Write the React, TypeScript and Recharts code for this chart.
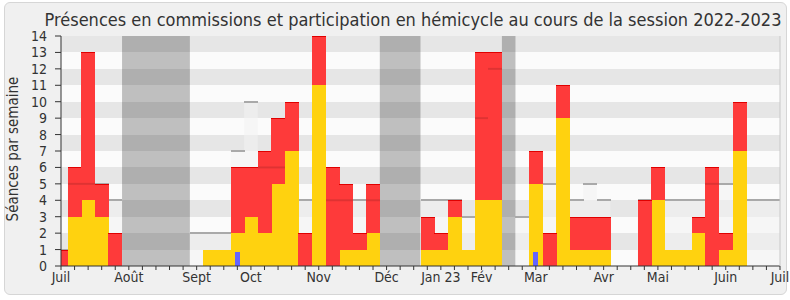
import { ComposedChart, Bar, Area, XAxis, YAxis, CartesianGrid, ReferenceArea } from "recharts";

const FONT = "'DejaVu Sans Condensed', 'DejaVu Sans', sans-serif";

// one point per week, week 0 = first week of July 2022
const weeks = Array.from({ length: 54 }, (_, i) => i);

// séances en hémicycle (yellow, bottom of the stack)
const hemicycle = [
  0, 3, 4, 3, 0, 0, 0, 0, 0, 0, 0, 1, 1, 2, 3, 2, 5, 7, 0, 11, 0, 1, 1, 2, 0, 0, 0,
  1, 1, 3, 1, 4, 4, 0, 0, 5, 0, 9, 1, 1, 1, 0, 0, 0, 4, 1, 1, 2, 0, 1, 7, 0, 0, 0,
];
// présences en commission (red, on top)
const commissions = [
  1, 3, 9, 2, 2, 0, 0, 0, 0, 0, 0, 0, 0, 4, 3, 5, 4, 3, 2, 3, 6, 4, 1, 3, 0, 0, 0,
  2, 1, 1, 0, 9, 9, 0, 0, 2, 2, 2, 2, 2, 2, 0, 0, 4, 2, 0, 0, 1, 6, 1, 3, 0, 0, 0,
];
// présence médiane des députés
const median = [
  1, 5, 5, 5, 4, 0, 0, 0, 0, 0, 2, 2, 2, 7, 10, 6, 6, 5, 4, 4, 4, 4, 4, 4, 0, 0, 0,
  4, 4, 4, 3, 9, 12, 0, 3, 5, 5, 4, 4, 5, 4, 0, 0, 4, 4, 4, 4, 4, 5, 5, 4, 4, 4, 4,
];
// questions orales
const questions = [
  0, 0, 0, 0, 0, 0, 0, 0, 0, 0, 0, 0, 0, 1, 0, 0, 0, 0, 0, 0, 0, 0, 0, 0, 0, 0, 0,
  0, 0, 0, 0, 0, 0, 0, 0, 1, 0, 0, 0, 0, 0, 0, 0, 0, 0, 0, 0, 0, 0, 0, 0, 0, 0, 0,
];
// vacances parlementaires: first and last week of each break
const vacStart = [5, 24, 33];
const vacEnd = [9, 26, 33];

const monthWeeks = [0, 5, 10, 14, 19, 24, 28, 31, 35, 40, 44, 49, 53];
const monthNames = ["Juil", "Août", "Sept", "Oct", "Nov", "Déc", "Jan 23", "Fév", "Mar", "Avr", "Mai", "Juin", "Juil"];

const yTicks = [0, 1, 2, 3, 4, 5, 6, 7, 8, 9, 10, 11, 12, 13, 14];

const data = weeks.map((w) => ({
  week: w,
  hemicycle: hemicycle[w],
  commissions: commissions[w],
  median: median[w],
  questions: questions[w],
}));

const monthLabel = (w: number) => {
  const i = monthWeeks.indexOf(w);
  return i >= 0 ? monthNames[i] : "";
};

const snap = (p: any) => {
  const x0 = Math.round(p.x);
  const x1 = Math.round(p.x + p.width);
  const y0 = Math.round(p.y);
  const y1 = Math.round(p.y + p.height);
  return { x: x0, y: y0, width: x1 - x0, height: y1 - y0 };
};

const flatBar = (fill: string) => (p: any) => {
  if (!p.height) return <g />;
  return <rect {...snap(p)} fill={fill} />;
};

// red segment; the median line faintly shows through it like in the original
const RedBar = (p: any) => {
  if (!p.height) return <g />;
  const r = snap(p);
  const { hemicycle: h, commissions: c, median: m } = p.payload;
  const inside = m > h && m < h + c;
  const my = p.y + p.height - ((m - h) * p.height) / c;
  return (
    <g>
      <rect {...r} fill="#fe3a3a" />
      {inside && (
        <line x1={r.x} x2={r.x + r.width} y1={my} y2={my} stroke="#000" strokeOpacity={0.12} strokeWidth={2} />
      )}
      <line x1={r.x} x2={r.x + r.width} y1={r.y + 0.5} y2={r.y + 0.5} stroke="#e00000" strokeWidth={1} />
    </g>
  );
};

// only the top edge of the median bar is drawn (the fill is the stepped area)
const MedianLine = (p: any) => {
  if (!p.height) return <g />;
  const r = snap(p);
  return <line x1={r.x} x2={r.x + r.width} y1={r.y} y2={r.y} stroke="#a9a9a9" strokeWidth={2} />;
};

export default function App() {
  const axisText = { fontFamily: FONT, fontSize: 14, fill: "#333", fontStretch: "condensed" };
  return (
    <div style={{ position: "absolute", left: 0, top: 0, width: 790, height: 300, background: "#fff" }}>
      <div
        style={{
          position: "absolute",
          left: 4,
          top: 2,
          width: 781,
          height: 291,
          background: "#f0f0f0",
          border: "1px solid #d6d6d6",
          borderRadius: 6,
        }}
      />
      <div
        style={{
          position: "absolute",
          left: 413,
          top: 10,
          transform: "translateX(-50%)",
          whiteSpace: "nowrap",
          fontFamily: FONT,
          fontStretch: "condensed",
          fontSize: 18,
          lineHeight: "20px",
          color: "#333",
        }}
      >
        Présences en commissions et participation en hémicycle au cours de la session 2022-2023
      </div>
      <div
        style={{
          position: "absolute",
          left: 12.5,
          top: 149,
          transform: "translate(-50%, -50%) rotate(-90deg)",
          whiteSpace: "nowrap",
          fontFamily: FONT,
          fontStretch: "condensed",
          fontSize: 15,
          color: "#333",
        }}
      >
        Séances par semaine
      </div>
      <div style={{ position: "absolute", left: 0, top: 0 }}>
        <ComposedChart
          width={790}
          height={300}
          data={data}
          margin={{ top: 35, right: 9, bottom: 6, left: 21 }}
          barCategoryGap={0}
          barGap={0}
        >
          <CartesianGrid
            xAxisId="w"
            vertical={false}
            stroke="none"
            horizontalFill={["#e6e6e6", "#fbfbfb"]}
          />
          <XAxis
            xAxisId="w"
            type="number"
            dataKey="week"
            domain={[0, 53]}
            ticks={weeks}
            interval={0}
            allowDataOverflow
            tickSize={4}
            height={28}
            tickFormatter={monthLabel}
            axisLine={{ stroke: "#333" }}
            tickLine={{ stroke: "#333" }}
            tick={axisText}
          />
          <XAxis
            xAxisId="top"
            orientation="top"
            type="number"
            dataKey="week"
            domain={[0, 53]}
            ticks={weeks}
            interval={0}
            tick={false}
            tickSize={2}
            height={1}
            axisLine={false}
            tickLine={{ stroke: "#444" }}
          />
          <XAxis xAxisId="med" type="number" dataKey="week" domain={[0, 53]} allowDataOverflow height={0} hide />
          <XAxis xAxisId="q" type="number" dataKey="week" domain={[0, 53]} allowDataOverflow height={0} hide />
          <YAxis
            domain={[0, 14]}
            ticks={yTicks}
            interval={0}
            width={40}
            tickSize={6}
            tickMargin={8}
            axisLine={{ stroke: "#333" }}
            tickLine={{ stroke: "#333" }}
            tick={axisText}
          />
          <YAxis
            yAxisId="r"
            orientation="right"
            domain={[0, 14]}
            width={1}
            tick={false}
            tickLine={false}
            axisLine={{ stroke: "#c8c8c8" }}
          />
          <YAxis yAxisId="med" domain={[0, 14]} width={0} hide />
          <YAxis yAxisId="q" domain={[0, 16]} width={0} hide />

          {vacStart.map((s, i) => (
            <ReferenceArea
              key={s}
              xAxisId="w"
              x1={s - 0.5}
              x2={vacEnd[i] + 0.5}
              fill="#000"
              fillOpacity={0.24}
              stroke="none"
              ifOverflow="hidden"
            />
          ))}
          <Area
            xAxisId="w"
            dataKey="median"
            type="step"
            stroke="none"
            fill="#f2f2f2"
            fillOpacity={0.55}
            isAnimationActive={false}
          />
          <Bar
            xAxisId="med"
            yAxisId="med"
            dataKey="median"
            shape={MedianLine}
            isAnimationActive={false}
          />
          <Bar
            xAxisId="w"
            dataKey="hemicycle"
            stackId="s"
            shape={flatBar("#ffd20f")}
            isAnimationActive={false}
          />
          <Bar
            xAxisId="w"
            dataKey="commissions"
            stackId="s"
            shape={RedBar}
            isAnimationActive={false}
          />
          <Bar
            xAxisId="q"
            yAxisId="q"
            dataKey="questions"
            barSize={5}
            shape={flatBar("#6464ff")}
            isAnimationActive={false}
          />
        </ComposedChart>
      </div>
    </div>
  );
}
